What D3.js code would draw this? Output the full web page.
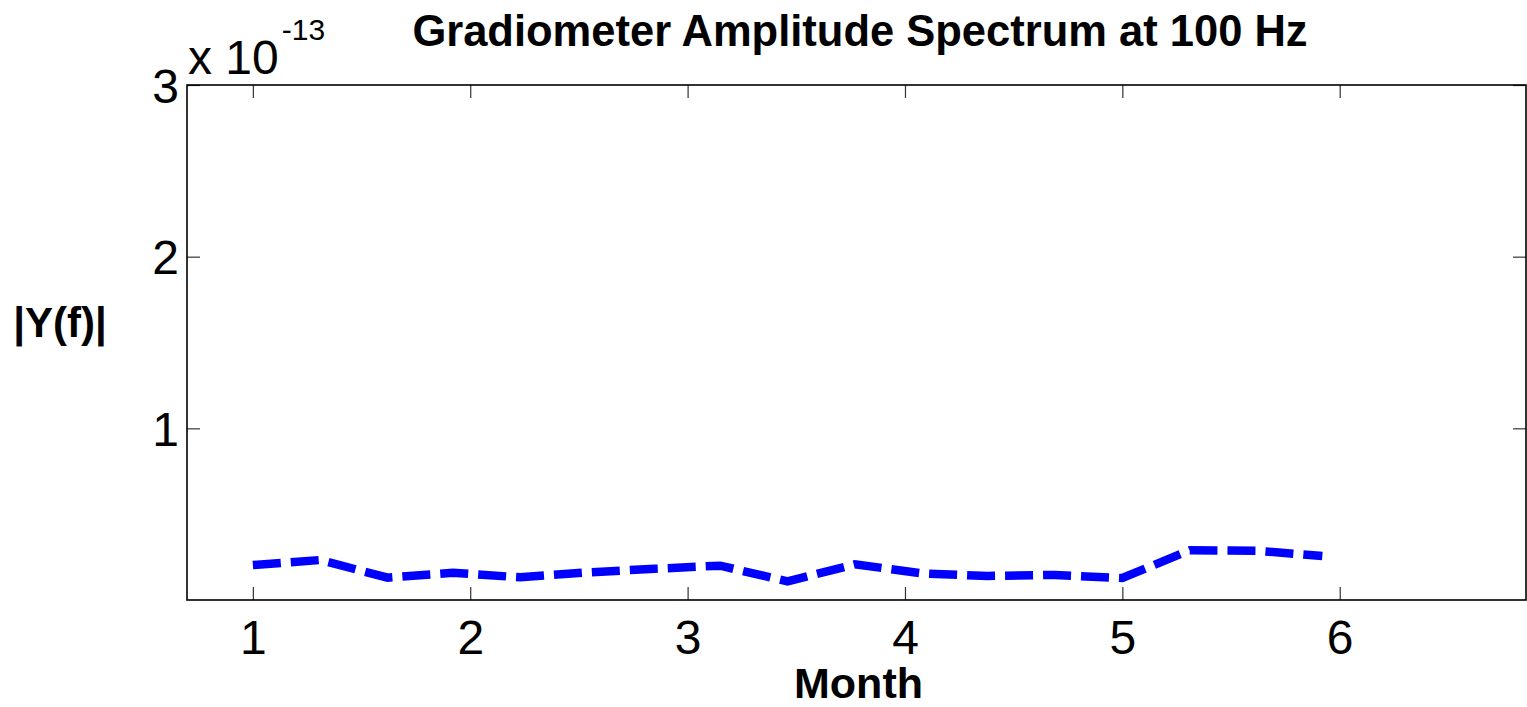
<!DOCTYPE html>
<html>
<head>
<meta charset="utf-8">
<script src="https://cdn.jsdelivr.net/npm/d3@7"></script>
<style>
  html, body { margin: 0; padding: 0; background: #fff; }
  svg { display: block; }
  text { font-family: "Liberation Sans", Arial, sans-serif; fill: #000; }
</style>
</head>
<body>
<svg id="chart" width="1527" height="707"></svg>
<script>
// ---- data ----
const months = [1, 1.31, 1.62, 1.92, 2.23, 2.54, 2.85, 3.15, 3.46, 3.77, 4.08, 4.38, 4.69, 5, 5.31, 5.62, 5.92];
const amplitude = [0.204, 0.233, 0.13, 0.159, 0.132, 0.161, 0.182, 0.2, 0.108, 0.208, 0.155, 0.14, 0.146, 0.128, 0.29, 0.287, 0.256]; // x 1e-13
const xTicks = [1, 2, 3, 4, 5, 6];
const yTicks = [1, 2, 3];
const xDomain = [0.697, 6.857];
const yDomain = [0, 3];
const titleText = "Gradiometer Amplitude Spectrum at 100 Hz";
const xLabel = "Month";
const yLabel = "|Y(f)|";

// ---- layout ----
const L = 187, R = 1526, T = 85, B = 600;
const svg = d3.select("#chart");
const x = d3.scaleLinear().domain(xDomain).range([L, R]);
const y = d3.scaleLinear().domain(yDomain).range([B, T]);

const tickLen = 13;
const tickColor = "#333";

// ticks bottom/top (inward)
const gx = svg.append("g").attr("transform", `translate(0,${B})`)
  .call(d3.axisBottom(x).tickValues(xTicks).tickSizeInner(-tickLen).tickSizeOuter(0).tickFormat(d3.format("d")));
gx.select(".domain").remove();
gx.selectAll("line").attr("stroke", tickColor).attr("stroke-width", 1.2);
gx.selectAll("text").attr("font-size", 48).attr("dy", "0.71em").attr("y", 20);

const gxt = svg.append("g").attr("transform", `translate(0,${T})`)
  .call(d3.axisTop(x).tickValues(xTicks).tickSizeInner(-tickLen).tickSizeOuter(0).tickFormat(""));
gxt.select(".domain").remove();
gxt.selectAll("line").attr("stroke", tickColor).attr("stroke-width", 1.2);

const gy = svg.append("g").attr("transform", `translate(${L},0)`)
  .call(d3.axisLeft(y).tickValues(yTicks).tickSizeInner(-tickLen).tickSizeOuter(0).tickFormat(d3.format("d")));
gy.select(".domain").remove();
gy.selectAll("line").attr("stroke", tickColor).attr("stroke-width", 1.2);
gy.selectAll("text").attr("font-size", 48).attr("x", -8).attr("dy", "0.36em");

const gyr = svg.append("g").attr("transform", `translate(${R},0)`)
  .call(d3.axisRight(y).tickValues(yTicks).tickSizeInner(-tickLen).tickSizeOuter(0).tickFormat(""));
gyr.select(".domain").remove();
gyr.selectAll("line").attr("stroke", tickColor).attr("stroke-width", 1.2);

// box
svg.append("rect").attr("x", L).attr("y", T).attr("width", R - L).attr("height", B - T)
  .attr("fill", "none").attr("stroke", "#000").attr("stroke-width", 1.6);

// line
const line = d3.line().x((d, i) => x(months[i])).y(d => y(d));
svg.append("path").datum(amplitude)
  .attr("d", line)
  .attr("fill", "none")
  .attr("stroke", "#0000ff")
  .attr("stroke-width", 8.5)
  .attr("stroke-dasharray", "28,10")
  .attr("stroke-linejoin", "miter");

// title
svg.append("text").attr("x", 860).attr("y", 46).attr("text-anchor", "middle")
  .attr("font-size", 43.5).attr("font-weight", "bold").text(titleText);

// exponent
const ex = svg.append("text").attr("x", 188).attr("y", 74).attr("font-size", 48);
ex.append("tspan").text("x 10");
ex.append("tspan").attr("font-size", 30).attr("dx", 3).attr("dy", -34).text("-13");

// axis labels
svg.append("text").attr("x", (L + R) / 2 + 2).attr("y", 698).attr("text-anchor", "middle")
  .attr("font-size", 43).attr("font-weight", "bold").text(xLabel);
svg.append("text").attr("x", 60).attr("y", 337).attr("text-anchor", "middle")
  .attr("font-size", 42).attr("font-weight", "bold").text(yLabel);
</script>
</body>
</html>
